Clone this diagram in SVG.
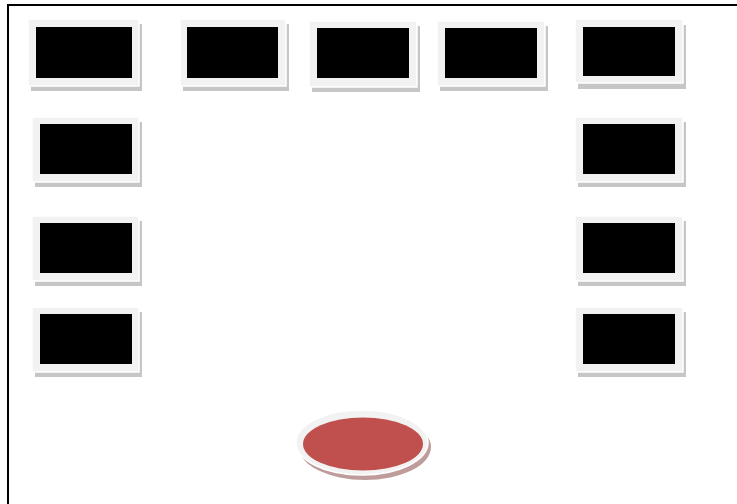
<svg xmlns="http://www.w3.org/2000/svg" width="737" height="504" viewBox="0 0 737 504">
<style>
.sh{fill:#c6c6c6}
.fr{fill:#f2f2f2;stroke:#fff;stroke-width:1.5}
.sc{fill:#000}
</style>
<rect x="0" y="0" width="737" height="504" fill="#fff"/>
<rect x="8" y="5" width="740" height="520" fill="none" stroke="#000" stroke-width="2"/>
<g id="screen-1"><rect class="sh" x="31" y="24" width="111" height="67"/><rect class="fr" x="28" y="19" width="111" height="67"/><rect class="sc" x="36" y="27" width="96" height="51"/></g>
<g id="screen-2"><rect class="sh" x="183" y="24" width="106" height="67"/><rect class="fr" x="180" y="19" width="106" height="67"/><rect class="sc" x="187" y="27" width="91" height="51"/></g>
<g id="screen-3"><rect class="sh" x="312" y="26" width="108" height="66"/><rect class="fr" x="309" y="21" width="108" height="66"/><rect class="sc" x="317" y="28" width="92" height="50"/></g>
<g id="screen-4"><rect class="sh" x="440" y="26" width="108" height="65"/><rect class="fr" x="437" y="21" width="108" height="65"/><rect class="sc" x="445" y="28" width="92" height="50"/></g>
<g id="screen-5"><rect class="sh" x="578" y="25" width="108" height="64"/><rect class="fr" x="575" y="19" width="108" height="64"/><rect class="sc" x="583" y="27" width="92" height="49"/></g>
<g id="screen-l2"><rect class="sh" x="35" y="122" width="107" height="65"/><rect class="fr" x="32" y="117" width="107" height="65"/><rect class="sc" x="40" y="124" width="92" height="50"/></g>
<g id="screen-l3"><rect class="sh" x="35" y="221" width="107" height="65"/><rect class="fr" x="32" y="216" width="107" height="65"/><rect class="sc" x="40" y="223" width="92" height="50"/></g>
<g id="screen-l4"><rect class="sh" x="35" y="312" width="107" height="65"/><rect class="fr" x="32" y="307" width="107" height="65"/><rect class="sc" x="40" y="314" width="92" height="50"/></g>
<g id="screen-r2"><rect class="sh" x="578" y="122" width="108" height="65"/><rect class="fr" x="575" y="117" width="108" height="65"/><rect class="sc" x="583" y="124" width="92" height="50"/></g>
<g id="screen-r3"><rect class="sh" x="578" y="221" width="108" height="65"/><rect class="fr" x="575" y="216" width="108" height="65"/><rect class="sc" x="583" y="223" width="92" height="50"/></g>
<g id="screen-r4"><rect class="sh" x="578" y="312" width="108" height="65"/><rect class="fr" x="575" y="307" width="108" height="65"/><rect class="sc" x="583" y="314" width="92" height="50"/></g>
<g id="table">
<ellipse cx="365" cy="447" rx="66" ry="33" fill="#bf9c9c"/>
<ellipse cx="362" cy="442.5" rx="66" ry="32.5" fill="#f2f2f2" stroke="#fff" stroke-width="1.5"/>
<ellipse cx="363" cy="444" rx="60" ry="26.5" fill="#c0504d"/>
</g>
<g id="connectors"/>
</svg>
